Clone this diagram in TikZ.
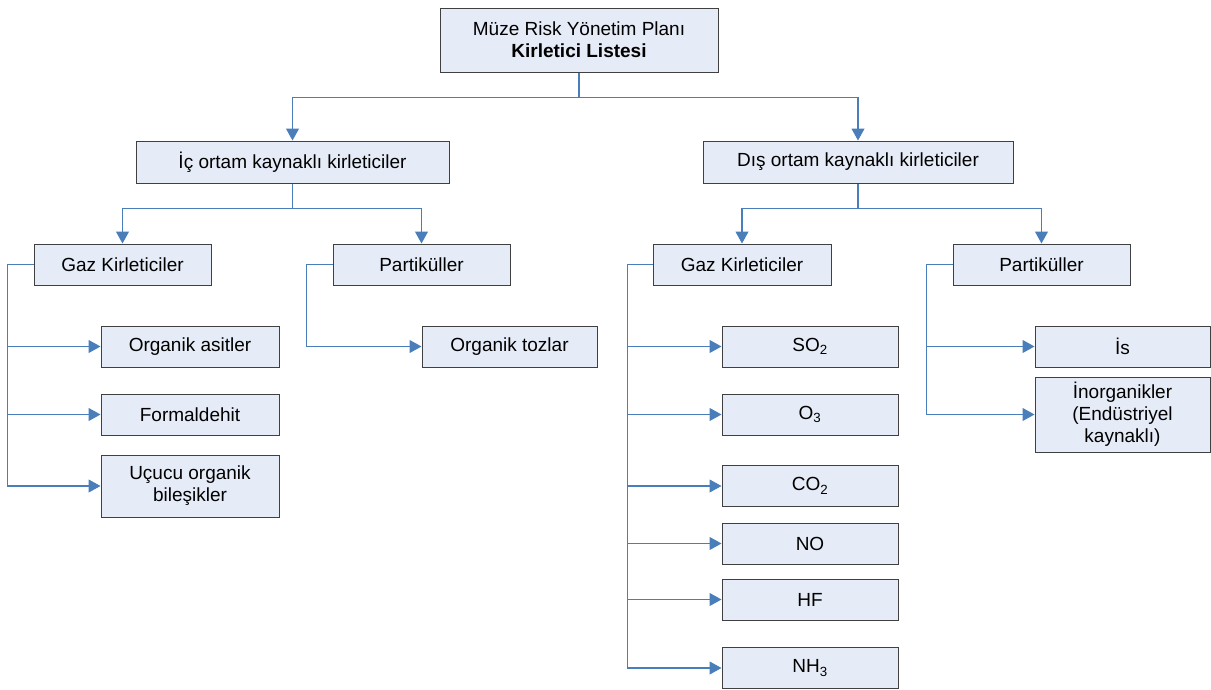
\documentclass[tikz,border=0pt]{standalone}
\usepackage{fontspec}
\setmainfont{Liberation Sans}
\usetikzlibrary{arrows.meta}
\definecolor{boxfill}{HTML}{E6ECF7}
\definecolor{boxline}{HTML}{404040}
\definecolor{linkblue}{HTML}{4A7EBB}
\begin{document}
\begin{tikzpicture}[x=1pt, y=-1pt,
  every node/.style={font=\fontsize{19}{22}\selectfont},
  box/.style={draw=boxline, fill=boxfill, line width=1pt, inner sep=0pt, align=center},
  conn/.style={draw=linkblue, line width=1.1pt, -{Triangle[length=12pt,width=13pt]}}]
  \useasboundingbox (0,0) rectangle (1211,689);
  % Top box
  \node[box, minimum width=278, minimum height=64] (plan) at (579,40)
    {Müze Risk Yönetim Planı\\\textbf{Kirletici Listesi}};
  % Source groups
  \node[box, minimum width=313, minimum height=42] (ic) at (292.5,162) {İç ortam kaynaklı kirleticiler};
  \node[box, minimum width=310, minimum height=42] (dis) at (858,162) {Dış ortam kaynaklı kirleticiler};
  % Gas and particle boxes
  \node[box, minimum width=177, minimum height=41] (icgaz) at (122.5,264.5) {Gaz Kirleticiler};
  \node[box, minimum width=177, minimum height=41] (icpart) at (421.5,264.5) {Partiküller};
  \node[box, minimum width=178, minimum height=41] (disgaz) at (742,264.5) {Gaz Kirleticiler};
  \node[box, minimum width=177, minimum height=41] (dispart) at (1041.5,264.5) {Partiküller};
  % Indoor gases
  \node[box, minimum width=178, minimum height=41] (orgasit) at (190,346.5) {Organik asitler};
  \node[box, minimum width=178, minimum height=41] (formal) at (190,414.5) {Formaldehit};
  \node[box, minimum width=178, minimum height=62] (ucucu) at (190,486) {Uçucu organik\\bileşikler};
  % Indoor particles
  \node[box, minimum width=175, minimum height=41] (orgtoz) at (509.5,346.5) {Organik tozlar};
  % Outdoor gases
  \node[box, minimum width=176, minimum height=41] (so2) at (810,346.5) {SO\textsubscript{2}};
  \node[box, minimum width=176, minimum height=41] (o3) at (810,414.5) {O\textsubscript{3}};
  \node[box, minimum width=176, minimum height=41] (co2) at (810,486) {CO\textsubscript{2}};
  \node[box, minimum width=176, minimum height=41] (no) at (810,543.5) {NO};
  \node[box, minimum width=176, minimum height=41] (hf) at (810,599.5) {HF};
  \node[box, minimum width=176, minimum height=41] (nh3) at (810,668) {NH\textsubscript{3}};
  % Outdoor particles
  \node[box, minimum width=175, minimum height=41] (is) at (1122.5,346.5) {İs};
  \node[box, minimum width=175, minimum height=75] (inorg) at (1122.5,414.5)
    {İnorganikler\\(Endüstriyel\\kaynaklı)};
  % Links from top
  \draw[conn] (plan.south) -- ++(0,25) -| (ic.north);
  \draw[conn] (plan.south) -- ++(0,25) -| (dis.north);
  \draw[conn] (ic.south) -- ++(0,25) -| (icgaz.north);
  \draw[conn] (ic.south) -- ++(0,25) -| (icpart.north);
  \draw[conn] (dis.south) -- ++(0,25) -| (disgaz.north);
  \draw[conn] (dis.south) -- ++(0,25) -| (dispart.north);
  % Side trunks
  \foreach \c in {orgasit, formal, ucucu}
    \draw[conn] (icgaz.west) -- ++(-26,0) |- (\c.west);
  \draw[conn] (icpart.west) -- ++(-26,0) |- (orgtoz.west);
  \foreach \c in {so2, o3, co2, no, hf, nh3}
    \draw[conn] (disgaz.west) -- ++(-25,0) |- (\c.west);
  \foreach \c in {is, inorg}
    \draw[conn] (dispart.west) -- ++(-26,0) |- (\c.west);
\end{tikzpicture}
\end{document}
